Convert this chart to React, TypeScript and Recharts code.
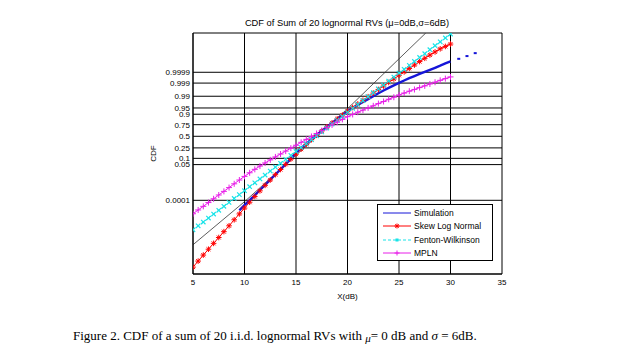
import { LineChart, Line, XAxis, YAxis, CartesianGrid, Label } from 'recharts';

// Y values are positions on the normal-probability axis, i.e. the standard
// normal quantile of the CDF (0 -> 0.5, 3.72 -> 0.9999, -3.72 -> 0.0001).
const dbGrid = [
  5, 5.5, 6, 6.5, 7, 7.5, 8, 8.5, 9, 9.5, 10, 10.5, 11, 11.5, 12, 12.5, 13, 13.5, 14, 14.5,
  15, 15.5, 16, 16.5, 17, 17.5, 18, 18.5, 19, 19.5, 20, 20.5, 21, 21.5, 22, 22.5, 23, 23.5,
  24, 24.5, 25, 25.5, 26, 26.5, 27, 27.5, 28, 28.5, 29, 29.5, 30,
];

const skewLogNormal = [
  -7.6, -7.25, -6.9, -6.56, -6.22, -5.88, -5.54, -5.2, -4.85, -4.51, -4.17, -3.83, -3.5, -3.17,
  -2.85, -2.54, -2.23, -1.93, -1.63, -1.33, -1.04, -0.75, -0.47, -0.2, 0.06, 0.31, 0.55, 0.78,
  1.01, 1.23, 1.45, 1.67, 1.88, 2.09, 2.3, 2.51, 2.72, 2.92, 3.13, 3.33, 3.54, 3.74, 3.94, 4.14,
  4.34, 4.53, 4.72, 4.9, 5.08, 5.22, 5.36,
];

const fentonWilkinson = [
  -5.43, -5.2, -4.98, -4.75, -4.52, -4.3, -4.07, -3.84, -3.61, -3.39, -3.16, -2.93, -2.7, -2.48,
  -2.25, -2.02, -1.79, -1.57, -1.34, -1.11, -0.88, -0.66, -0.43, -0.2, 0.03, 0.25, 0.48, 0.71,
  0.94, 1.16, 1.39, 1.62, 1.85, 2.07, 2.3, 2.53, 2.76, 2.98, 3.21, 3.44, 3.67, 3.89, 4.12, 4.35,
  4.58, 4.8, 5.03, 5.26, 5.49, 5.71, 5.94,
];

const mpln = [
  -4.5, -4.28, -4.07, -3.85, -3.63, -3.41, -3.2, -2.98, -2.76, -2.54, -2.33, -2.12, -1.92, -1.73,
  -1.55, -1.37, -1.2, -1.03, -0.86, -0.69, -0.52, -0.35, -0.18, -0.01, 0.16, 0.33, 0.5, 0.66,
  0.82, 0.98, 1.14, 1.27, 1.4, 1.52, 1.65, 1.77, 1.9, 2.02, 2.15, 2.27, 2.4, 2.51, 2.62, 2.72,
  2.83, 2.93, 3.04, 3.14, 3.25, 3.35, 3.45,
];

// simulation starts at 9.5 dB
const simDb = dbGrid.slice(9);
const simulation = [
  -4.3, -4.0, -3.71, -3.42, -3.12, -2.83, -2.52, -2.22, -1.92, -1.62, -1.3, -0.97, -0.69, -0.43,
  -0.18, 0.06, 0.31, 0.55, 0.78, 1.0, 1.23, 1.45, 1.64, 1.82, 1.99, 2.16, 2.33, 2.5, 2.66, 2.81,
  2.96, 3.1, 3.24, 3.38, 3.5, 3.62, 3.74, 3.86, 3.98, 4.1, 4.23, 4.35,
];
const simTailDb = [30.8, 31.6, 32.4];
const simTail = [4.5, 4.66, 4.83];

// thin black reference line (not in legend)
const refDb = [5, 10, 15, 20, 25, 27.6];
const refLine = [-6.3, -3.8, -1.1, 1.6, 4.5, 6.0];

const xTicks = [5, 10, 15, 20, 25, 30, 35];
const yTickProbs = [0.0001, 0.05, 0.1, 0.25, 0.5, 0.75, 0.9, 0.95, 0.99, 0.999, 0.9999];
const yTickLabels = ['0.0001', '0.05', '0.1', '0.25', '0.5', '0.75', '0.9', '0.95', '0.99', '0.999', '0.9999'];

const COLORS = {
  sim: '#1515d8',
  sln: '#ff0000',
  fw: '#19e3e8',
  mpln: '#e81ee8',
  ref: '#333333',
};

const FONT = '"Liberation Sans", Arial, sans-serif';

// inverse standard normal CDF (Acklam)
function probit(p: number) {
  const a = [-39.69683028665376, 220.9460984245205, -275.9285104469687, 138.357751867269, -30.66479806614716, 2.506628277459239];
  const b = [-54.47609879822406, 161.5858368580409, -155.6989798598866, 66.80131188771972, -13.28068155288572];
  const c = [-0.007784894002430293, -0.3223964580411365, -2.400758277161838, -2.549671010429705, 4.374664141464968, 2.938163982698783];
  const d = [0.007784695709041462, 0.3224671290700398, 2.445134137142996, 3.754408661907416];
  const lo = 0.02425;
  if (p < lo) {
    const q = Math.sqrt(-2 * Math.log(p));
    return (((((c[0] * q + c[1]) * q + c[2]) * q + c[3]) * q + c[4]) * q + c[5]) /
      ((((d[0] * q + d[1]) * q + d[2]) * q + d[3]) * q + 1);
  }
  if (p > 1 - lo) {
    const q = Math.sqrt(-2 * Math.log(1 - p));
    return -(((((c[0] * q + c[1]) * q + c[2]) * q + c[3]) * q + c[4]) * q + c[5]) /
      ((((d[0] * q + d[1]) * q + d[2]) * q + d[3]) * q + 1);
  }
  const q = p - 0.5;
  const r = q * q;
  return (((((a[0] * r + a[1]) * r + a[2]) * r + a[3]) * r + a[4]) * r + a[5]) * q /
    (((((b[0] * r + b[1]) * r + b[2]) * r + b[3]) * r + b[4]) * r + 1);
}

const yTicks = yTickProbs.map(probit);

const toPoints = (xs: number[], ys: number[]) => xs.map((x, i) => ({ x, y: ys[i] }));

const slnData = toPoints(dbGrid, skewLogNormal);
const fwData = toPoints(dbGrid, fentonWilkinson);
const mplnData = toPoints(dbGrid, mpln);
const simData = toPoints(simDb, simulation);
const simTailData = toPoints(simTailDb, simTail);
const refData = toPoints(refDb, refLine);

// marker shapes
function asterisk(cx: number, cy: number, color: string, r = 2.8, key?: string) {
  const k = r * 0.7;
  return (
    <g key={key} stroke={color} strokeWidth={1}>
      <line x1={cx - r} y1={cy} x2={cx + r} y2={cy} />
      <line x1={cx} y1={cy - r} x2={cx} y2={cy + r} />
      <line x1={cx - k} y1={cy - k} x2={cx + k} y2={cy + k} />
      <line x1={cx - k} y1={cy + k} x2={cx + k} y2={cy - k} />
    </g>
  );
}

function cross(cx: number, cy: number, color: string, r = 2.2, key?: string) {
  return (
    <g key={key} stroke={color} strokeWidth={1.2}>
      <line x1={cx - r} y1={cy - r} x2={cx + r} y2={cy + r} />
      <line x1={cx - r} y1={cy + r} x2={cx + r} y2={cy - r} />
    </g>
  );
}

function plus(cx: number, cy: number, color: string, r = 3, key?: string) {
  return (
    <g key={key} stroke={color} strokeWidth={1}>
      <line x1={cx - r} y1={cy} x2={cx + r} y2={cy} />
      <line x1={cx} y1={cy - r} x2={cx} y2={cy + r} />
    </g>
  );
}

const dotKey = (p: any) => `d-${p.dataKey}-${p.index}`;

const legendItems = [
  { name: 'Simulation', color: COLORS.sim, dash: undefined, marker: null },
  { name: 'Skew Log Normal', color: COLORS.sln, dash: undefined, marker: 'ast' },
  { name: 'Fenton-Wilkinson', color: COLORS.fw, dash: '3 2', marker: 'sq' },
  { name: 'MPLN', color: COLORS.mpln, dash: undefined, marker: 'plus' },
];

function LegendBox() {
  return (
    <div
      style={{
        position: 'absolute',
        left: 377,
        top: 204,
        width: 114,
        height: 55,
        border: '1px solid #000',
        background: '#fff',
      }}
    >
      {legendItems.map((item, i) => (
        <div
          key={item.name}
          style={{
            position: 'absolute',
            left: 4,
            top: 2 + i * 13.3,
            height: 12,
            display: 'flex',
            alignItems: 'center',
          }}
        >
          <svg width={30} height={12}>
            <line x1={1} y1={6} x2={29} y2={6} stroke={item.color} strokeWidth={1} strokeDasharray={item.dash} />
            {item.marker === 'ast' && asterisk(15, 6, item.color, 2.5)}
            {item.marker === 'sq' && <rect x={13.5} y={4.5} width={3} height={3} fill={item.color} />}
            {item.marker === 'plus' && plus(15, 6, item.color, 2.5)}
          </svg>
          <span style={{ fontFamily: FONT, fontSize: 8.5, color: '#000', marginLeft: 2, whiteSpace: 'nowrap' }}>
            {item.name}
          </span>
        </div>
      ))}
    </div>
  );
}

export default function App() {
  return (
    <div style={{ position: 'absolute', left: 0, top: 0, width: 644, height: 359, background: '#fff', overflow: 'hidden' }}>
      <div
        style={{
          position: 'absolute',
          left: 0,
          width: 694,
          top: 18,
          textAlign: 'center',
          fontFamily: FONT,
          fontSize: 9.3,
          color: '#000',
        }}
      >
        CDF of Sum of 20 lognormal RVs (μ=0dB,σ=6dB)
      </div>

      <div style={{ position: 'absolute', left: 0, top: 0 }}>
        <LineChart width={644} height={310} margin={{ top: 33, right: 142, bottom: 6, left: 0 }}>
          <CartesianGrid stroke="#000" strokeWidth={1} />
          <XAxis
            dataKey="x"
            type="number"
            domain={[5, 35]}
            ticks={xTicks}
            allowDataOverflow
            interval={0}
            height={30}
            axisLine={{ stroke: '#000' }}
            tickLine={false}
            tickSize={2}
            tickMargin={3}
            tick={{ fontSize: 8, fill: '#000', fontFamily: FONT }}
          >
            <Label value="X(dB)" position="insideBottom" offset={5} style={{ fontSize: 8, fill: '#000', fontFamily: FONT }} />
          </XAxis>
          <YAxis
            dataKey="y"
            type="number"
            domain={[-8, 6]}
            ticks={yTicks}
            allowDataOverflow
            interval={0}
            width={193}
            axisLine={{ stroke: '#000' }}
            tickLine={false}
            tickSize={3}
            tickMargin={0}
            tick={{ fontSize: 8, fill: '#000', fontFamily: FONT }}
            tickFormatter={(v: number) => {
              let best = 0;
              yTicks.forEach((t, i) => {
                if (Math.abs(t - v) < Math.abs(yTicks[best] - v)) best = i;
              });
              return yTickLabels[best];
            }}
          >
            <Label
              content={(props: any) => {
                const vb = props.viewBox || { x: 0, y: 33, width: 193, height: 241 };
                const x = vb.x + vb.width - 40;
                const y = vb.y + vb.height / 2;
                return (
                  <text
                    x={x}
                    y={y}
                    transform={`rotate(-90, ${x}, ${y})`}
                    textAnchor="middle"
                    dominantBaseline="central"
                    style={{ fontSize: 8, fill: '#000', fontFamily: FONT }}
                  >
                    CDF
                  </text>
                );
              }}
            />
          </YAxis>

          <Line
            data={refData}
            dataKey="y"
            type="linear"
            stroke={COLORS.ref}
            strokeWidth={0.8}
            dot={false}
            activeDot={false}
            isAnimationActive={false}
            legendType="none"
          />
          <Line
            data={slnData}
            dataKey="y"
            name="Skew Log Normal"
            type="linear"
            stroke={COLORS.sln}
            strokeWidth={1}
            dot={(p: any) => asterisk(p.cx, p.cy, COLORS.sln, 2.8, dotKey(p))}
            activeDot={false}
            isAnimationActive={false}
          />
          <Line
            data={fwData}
            dataKey="y"
            name="Fenton-Wilkinson"
            type="linear"
            stroke={COLORS.fw}
            strokeWidth={1}
            strokeDasharray="3 2"
            dot={(p: any) => cross(p.cx, p.cy, COLORS.fw, 2.2, dotKey(p))}
            activeDot={false}
            isAnimationActive={false}
          />
          <Line
            data={mplnData}
            dataKey="y"
            name="MPLN"
            type="linear"
            stroke={COLORS.mpln}
            strokeWidth={1}
            dot={(p: any) => plus(p.cx, p.cy, COLORS.mpln, 3, dotKey(p))}
            activeDot={false}
            isAnimationActive={false}
          />
          <Line
            data={simData}
            dataKey="y"
            name="Simulation"
            type="linear"
            stroke={COLORS.sim}
            strokeWidth={2.4}
            dot={false}
            activeDot={false}
            isAnimationActive={false}
          />
          <Line
            data={simTailData}
            dataKey="y"
            type="linear"
            stroke="none"
            dot={(p: any) => (
              <rect key={dotKey(p)} x={p.cx - 1.5} y={p.cy - 1} width={3} height={2} fill={COLORS.sim} />
            )}
            activeDot={false}
            isAnimationActive={false}
            legendType="none"
          />
        </LineChart>
      </div>

      <LegendBox />

      <div
        style={{
          position: 'absolute',
          left: 73,
          top: 328,
          fontFamily: '"Liberation Serif", "Times New Roman", serif',
          fontSize: 13,
          color: '#000',
          whiteSpace: 'nowrap',
        }}
      >
        Figure 2. CDF of a sum of 20 i.i.d. lognormal RVs with{' '}
        <span style={{ fontStyle: 'italic', fontSize: 11, position: 'relative', top: 2 }}>μ</span>= 0 dB and{' '}
        <span style={{ fontStyle: 'italic' }}>σ</span> = 6dB.
      </div>
    </div>
  );
}
